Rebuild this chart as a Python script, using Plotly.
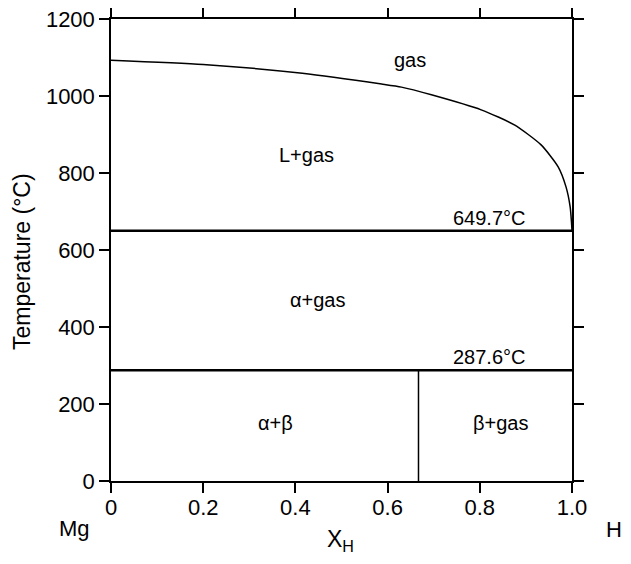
import plotly.graph_objects as go

# Gas boundary (L+gas / gas)
curve_x = [0, 0.2, 0.415, 0.587, 0.63, 0.695, 0.803, 0.875, 0.933, 0.97, 0.987, 0.996, 0.999, 1.0]
curve_T = [1093, 1082, 1059, 1031, 1023, 1003, 964, 925, 873, 816, 764, 712, 670, 650]

# Invariant lines
T_mono = 649.7
T_eut = 287.6
x_MgH2 = 0.667

x_ticks = [0, 0.2, 0.4, 0.6, 0.8, 1.0]
x_ticklabels = ["0", "0.2", "0.4", "0.6", "0.8", "1.0"]
y_ticks = [0, 200, 400, 600, 800, 1000, 1200]

region_labels = ["gas", "L+gas", "α+gas", "α+β", "β+gas"]
region_x = [0.649, 0.423, 0.449, 0.356, 0.844]
region_T = [1093, 847, 470, 151, 151]

FONT = "Liberation Sans, Arial, Helvetica, sans-serif"

fig = go.Figure()
fig.add_trace(go.Scatter(x=curve_x, y=curve_T, mode="lines",
                         line=dict(color="black", width=1.5, shape="spline", smoothing=0.6),
                         showlegend=False, hoverinfo="skip"))
fig.add_trace(go.Scatter(x=[0, 1.0], y=[T_mono, T_mono], mode="lines",
                         line=dict(color="black", width=2.5), showlegend=False))
fig.add_trace(go.Scatter(x=[0, 1.0], y=[T_eut, T_eut], mode="lines",
                         line=dict(color="black", width=2.5), showlegend=False))
fig.add_trace(go.Scatter(x=[x_MgH2, x_MgH2], y=[0, T_eut], mode="lines",
                         line=dict(color="black", width=1.5), showlegend=False))

for t, x, y in zip(region_labels, region_x, region_T):
    fig.add_annotation(x=x, y=y, text=t, showarrow=False, xanchor="center", yanchor="middle",
                       font=dict(size=20, color="black", family=FONT))

fig.add_annotation(x=0.822, y=T_mono, xanchor="center", yanchor="bottom", yshift=0,
                   text=f"{T_mono}°C", showarrow=False,
                   font=dict(size=20, color="black", family=FONT))
fig.add_annotation(x=0.82, y=T_eut, xanchor="center", yanchor="bottom", yshift=0,
                   text=f"{T_eut}°C", showarrow=False,
                   font=dict(size=20, color="black", family=FONT))

# page offset (default body margin) compensation; keep page inside the window
OFF = 8
W, H = 631 - 2 * OFF, 564 - 2 * OFF
L, T = 111 - OFF, 19 - OFF
R = W - (572 - OFF)
B = H - (481 - OFF)
pw, ph = W - L - R, H - T - B

def px(xp):
    return (xp - OFF - L) / pw

def py(yp):
    return (H - B - (yp - OFF)) / ph

def paper_text(xp, yp, text, size, angle=0):
    fig.add_annotation(xref="paper", yref="paper", x=px(xp), y=py(yp), text=text,
                       xanchor="center", yanchor="middle", textangle=angle,
                       showarrow=False, font=dict(size=size, color="black", family=FONT))

paper_text(74, 528, "Mg", 22)
paper_text(614, 529, "H", 22)
paper_text(340, 540, "X<sub>H</sub>", 23)
paper_text(22, 262, "Temperature (°C)", 23, angle=-90)

fig.update_layout(
    width=W, height=H,
    margin=dict(l=L, r=R, t=T, b=B, autoexpand=False),
    paper_bgcolor="white", plot_bgcolor="white",
    font=dict(family=FONT, size=22, color="black"),
    showlegend=False,
)
fig.update_xaxes(range=[0, 1.0], tickvals=x_ticks, ticktext=x_ticklabels,
                 ticks="outside", ticklen=10, tickwidth=1.5, tickcolor="black",
                 showline=True, linecolor="black", linewidth=1.5, mirror="ticks",
                 showgrid=False, zeroline=False, tickfont=dict(size=22), automargin=False,
                 ticklabelstandoff=-4, ticklabeloverflow="allow")
fig.update_yaxes(range=[0, 1200], tickvals=y_ticks,
                 ticks="outside", ticklen=10, tickwidth=1.5, tickcolor="black",
                 showline=True, linecolor="black", linewidth=1.5, mirror="ticks",
                 showgrid=False, zeroline=False, tickfont=dict(size=22), automargin=False,
                 ticklabeloverflow="allow")

fig.write_html("out.html")
